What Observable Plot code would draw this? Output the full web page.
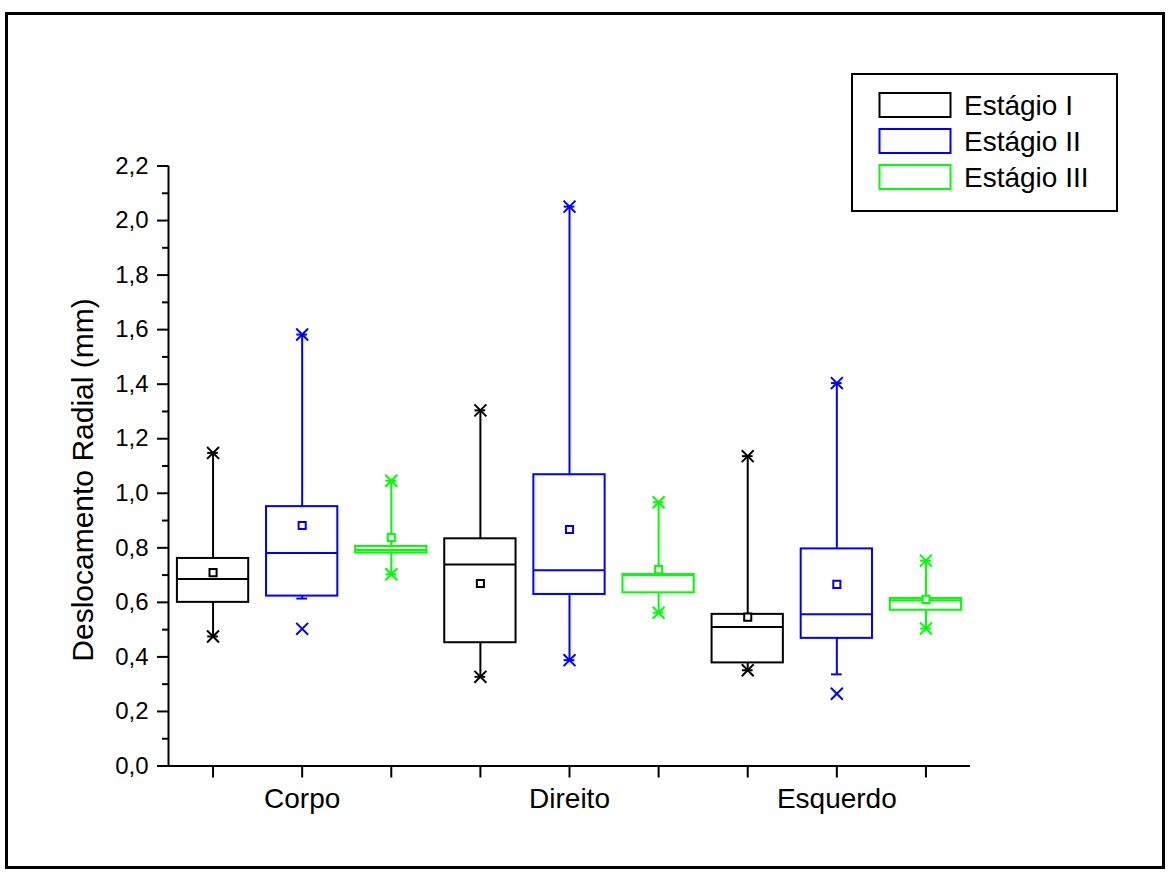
<!DOCTYPE html>
<html>
<head>
<meta charset="utf-8">
<script src="https://cdn.jsdelivr.net/npm/d3@7"></script>
<script src="https://cdn.jsdelivr.net/npm/@observablehq/plot@0.6"></script>
<style>
  body { margin: 0; background: #fff; font-family: "Liberation Sans", Arial, sans-serif; }
  #wrap { position: relative; width: 1170px; height: 875px; }
  #wrap svg { position: absolute; left: 0; top: 0; }
  #border { position: absolute; left: 5px; top: 12px; width: 1160px; height: 857px;
            border: 3px solid #000; box-sizing: border-box; pointer-events: none; }
</style>
</head>
<body>
<div id="wrap"><div id="border"></div></div>
<script>
// Groups along the x axis and the three stages drawn inside each group
const categories = ["Corpo", "Direito", "Esquerdo"];
const stages = ["Estágio I", "Estágio II", "Estágio III"];
const stageColors = ["#000000", "#0000ff", "#00ff00"];

// Box statistics, one row per stage, one value per category (mm)
const q1          = [[0.600, 0.452, 0.378], [0.623, 0.629, 0.468], [0.781, 0.635, 0.571]];
const median      = [[0.686, 0.739, 0.510], [0.781, 0.718, 0.556], [0.792, 0.700, 0.608]];
const q3          = [[0.761, 0.833, 0.556], [0.951, 1.068, 0.796], [0.805, 0.702, 0.614]];
const whiskerLow  = [[0.475, 0.327, 0.351], [0.614, 0.388, 0.336], [0.703, 0.562, 0.504]];
const whiskerHigh = [[1.148, 1.304, 1.136], [1.582, 2.051, 1.404], [1.046, 0.967, 0.753]];
const minimum     = [[0.475, 0.327, 0.351], [0.503, 0.388, 0.265], [0.703, 0.562, 0.504]];
const maximum     = [[1.148, 1.304, 1.136], [1.582, 2.051, 1.404], [1.046, 0.967, 0.753]];
const mean        = [[0.709, 0.669, 0.546], [0.882, 0.867, 0.666], [0.838, 0.720, 0.611]];

// Axis ticks
const yTicks = [0, 0.2, 0.4, 0.6, 0.8, 1.0, 1.2, 1.4, 1.6, 1.8, 2.0, 2.2];
const yMinorTicks = [0.1, 0.3, 0.5, 0.7, 0.9, 1.1, 1.3, 1.5, 1.7, 1.9, 2.1];
const xSlots = [1, 2, 3, 4, 5, 6, 7, 8, 9];
const yTitle = "Deslocamento Radial (mm)";

const halfBox = 0.4;   // half box width, in slot units
const halfCap = 0.06;  // half whisker-cap width

const rows = [];
categories.forEach((cat, c) => {
  stages.forEach((stage, s) => {
    rows.push({
      category: cat, stage, color: stageColors[s],
      pos: c * stages.length + s + 1,
      q1: q1[s][c], median: median[s][c], q3: q3[s][c],
      wl: whiskerLow[s][c], wh: whiskerHigh[s][c],
      min: minimum[s][c], max: maximum[s][c], mean: mean[s][c]
    });
  });
});
// the middle slot of each group carries the group name
const groupCenters = categories.map((c, i) => i * stages.length + 2);

const fmt = d => d.toFixed(1).replace(".", ",");

const chart = Plot.plot({
  width: 1170,
  height: 875,
  marginLeft: 168,
  marginRight: 200,
  marginTop: 165.5,
  marginBottom: 109.5,
  style: { fontFamily: "'Liberation Sans', Arial, sans-serif", color: "#000", background: "transparent", overflow: "visible" },
  x: { domain: [0.5, 9.5], axis: null },
  y: { domain: [0, 2.2], axis: null },
  color: { type: "identity" },
  marks: [
    // axes
    Plot.axisY(yTicks, { tickSize: 11, tickPadding: 9, tickFormat: fmt, fontSize: 24, strokeWidth: 2, label: null }),
    Plot.axisY(yMinorTicks, { tickSize: 6, tickFormat: () => "", strokeWidth: 2, label: null }),
    Plot.axisX(xSlots, { tickSize: 12, tickFormat: () => "", strokeWidth: 2, label: null }),
    Plot.axisX(groupCenters, { tickSize: 0, tickPadding: 22, tickFormat: (d, i) => categories[i], fontSize: 28, label: null }),
    Plot.ruleX([0.5], { y1: 0, y2: 2.2, strokeWidth: 2 }),
    Plot.ruleY([0], { x1: 0.5, x2: 9.5, strokeWidth: 2 }),

    // whiskers and caps
    Plot.ruleX(rows, { x: "pos", y1: "q3", y2: "wh", stroke: "color", strokeWidth: 2 }),
    Plot.ruleX(rows, { x: "pos", y1: "wl", y2: "q1", stroke: "color", strokeWidth: 2 }),
    Plot.ruleY(rows, { y: "wl", x1: d => d.pos - halfCap, x2: d => d.pos + halfCap, stroke: "color", strokeWidth: 2 }),
    Plot.ruleY(rows, { y: "wh", x1: d => d.pos - halfCap, x2: d => d.pos + halfCap, stroke: "color", strokeWidth: 2 }),

    // boxes and medians
    Plot.rect(rows, { x1: d => d.pos - halfBox, x2: d => d.pos + halfBox, y1: "q1", y2: "q3", stroke: "color", fill: "none", strokeWidth: 2 }),
    Plot.ruleY(rows, { y: "median", x1: d => d.pos - halfBox, x2: d => d.pos + halfBox, stroke: "color", strokeWidth: 2 }),

    // extremes and means
    Plot.dot(rows, { x: "pos", y: "min", symbol: "times", r: 5.5, stroke: "color", strokeWidth: 2 }),
    Plot.dot(rows, { x: "pos", y: "max", symbol: "times", r: 5.5, stroke: "color", strokeWidth: 2 }),
    Plot.dot(rows, { x: "pos", y: "mean", symbol: "square", r: 4, stroke: "color", fill: "white", strokeWidth: 2 })
  ]
});

const svg = d3.select(chart);

// Rotated y-axis title, centred on the plotted range
svg.append("text")
  .attr("transform", "translate(93,480) rotate(-90)")
  .attr("text-anchor", "middle")
  .attr("font-family", "'Liberation Sans', Arial, sans-serif")
  .attr("font-size", 30).attr("fill", "#000")
  .text(yTitle);

// Legend box in the upper right corner
const legend = svg.append("g")
  .attr("font-family", "'Liberation Sans', Arial, sans-serif")
  .attr("text-anchor", "start");
legend.append("rect")
  .attr("x", 852).attr("y", 74).attr("width", 265).attr("height", 137)
  .attr("fill", "white").attr("stroke", "#000").attr("stroke-width", 2);
stages.forEach((stage, i) => {
  const y = 93 + i * 36;
  legend.append("rect")
    .attr("x", 879.5).attr("y", y).attr("width", 71).attr("height", 24)
    .attr("fill", "none").attr("stroke", stageColors[i]).attr("stroke-width", 2);
  legend.append("text")
    .attr("x", 964).attr("y", y + 12).attr("dy", "0.36em")
    .attr("text-anchor", "start")
    .attr("font-size", 28).attr("fill", "#000").text(stage);
});

document.getElementById("wrap").prepend(chart);
</script>
</body>
</html>
